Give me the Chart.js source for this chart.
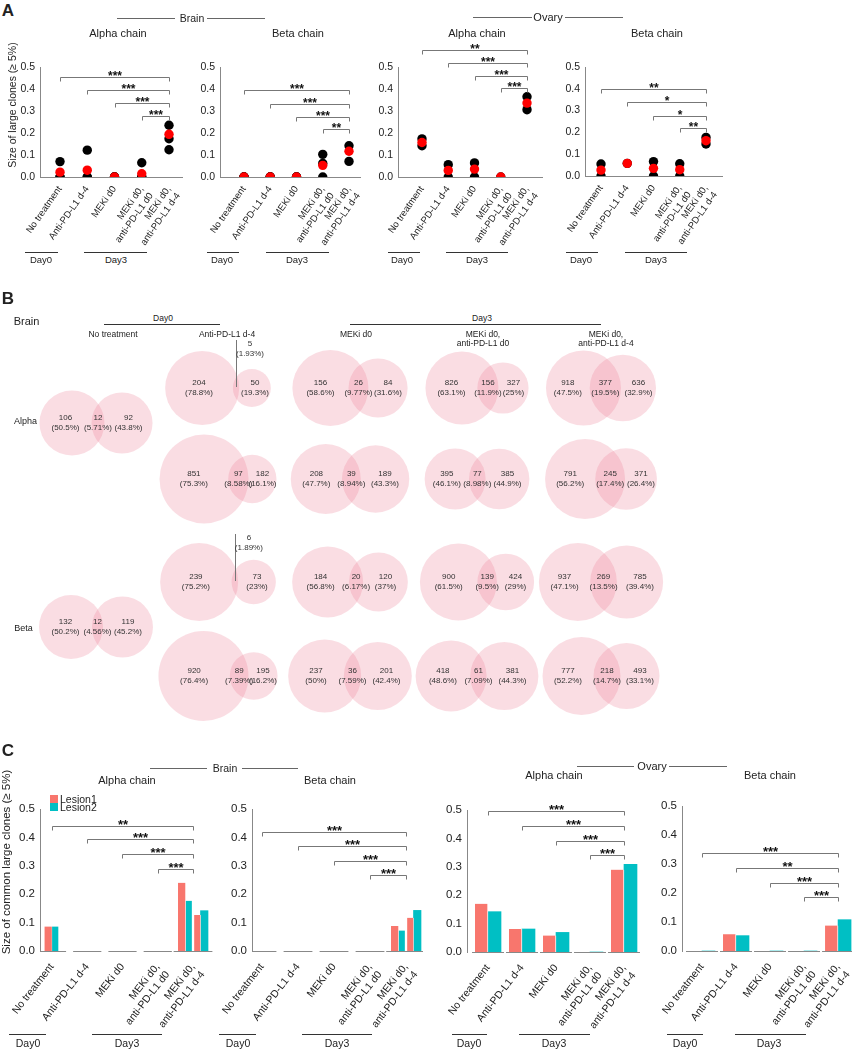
<!DOCTYPE html>
<html>
<head>
<meta charset="utf-8">
<script src="https://cdn.jsdelivr.net/npm/chart.js@4.4.1/dist/chart.umd.min.js"></script>
<style>
  html, body { margin: 0; padding: 0; background: #fff; }
  body { position: relative; width: 859px; height: 1050px; overflow: hidden; font-family: "Liberation Sans", Arial, sans-serif; color: #222; }
  canvas { position: absolute; }
  .t { position: absolute; white-space: nowrap; line-height: 1; text-align: center; transform: translate(-50%, -50%); }
  .l { position: absolute; height: 0; }
  .sq { position: absolute; width: 8px; height: 8px; }
</style>
</head>
<body>
<script>
// ---------- group labels ----------
var groups = ['No treatment', 'Anti-PD-L1 d-4', 'MEKi d0', ['MEKi d0,', 'anti-PD-L1 d0'], ['MEKi d0,', 'anti-PD-L1 d-4']];

// ---------- panel A: size of large clones, black = single lesions, red = mean ----------
var brainAlphaDots = [[0.070, 0, 0], [0.122, 0, 0], [0, 0, 0], [0.065, 0, 0], [0.235, 0.174, 0.124]];
var brainAlphaMean = [0.022, 0.031, 0, 0.015, 0.194];
var brainBetaDots = [[0, 0, 0], [0, 0, 0], [0, 0, 0], [0.103, 0.062, 0], [0.142, 0.071]];
var brainBetaMean = [0, 0, 0, 0.053, 0.117];
var ovaryAlphaDots = [[0.173, 0.142], [0.056, 0], [0.064, 0], [0], [0.365, 0.306]];
var ovaryAlphaMean = [0.157, 0.030, 0.036, 0, 0.336];
var ovaryBetaDots = [[0.055, 0], [0.058], [0.066, 0], [0.056, 0], [0.177, 0.147]];
var ovaryBetaMean = [0.027, 0.058, 0.035, 0.029, 0.162];

// significance brackets: [from group, to group, height, stars]
var brainAlphaSigA = [[0, 4, 0.456, '***'], [1, 4, 0.397, '***'], [2, 4, 0.338, '***'], [3, 4, 0.279, '***']];
var brainBetaSigA = [[0, 4, 0.394, '***'], [1, 4, 0.333, '***'], [2, 4, 0.271, '***'], [3, 4, 0.216, '**']];
var ovaryAlphaSigA = [[0, 4, 0.579, '**'], [1, 4, 0.520, '***'], [2, 4, 0.460, '***'], [3, 4, 0.405, '***']];
var ovaryBetaSigA = [[0, 4, 0.397, '**'], [1, 4, 0.338, '*'], [2, 4, 0.275, '*'], [3, 4, 0.220, '**']];

// ---------- panel B: clone overlaps [lesion1 only, shared, lesion2 only] ----------
var vennColumns = ['No treatment', 'Anti-PD-L1 d-4', 'MEKi d0', 'MEKi d0,<br>anti-PD-L1 d0', 'MEKi d0,<br>anti-PD-L1 d-4'];
var alphaNoTreatment = [106, 12, 92];
var alphaRow1 = [[204, 5, 50], [156, 26, 84], [826, 156, 327], [918, 377, 636]];
var alphaRow2 = [[851, 97, 182], [208, 39, 189], [395, 77, 385], [791, 245, 371]];
var betaNoTreatment = [132, 12, 119];
var betaRow1 = [[239, 6, 73], [184, 20, 120], [900, 139, 424], [937, 269, 785]];
var betaRow2 = [[920, 89, 195], [237, 36, 201], [418, 61, 381], [777, 218, 493]];

// ---------- panel C: size of common large clones per lesion ----------
var brainAlphaL1 = [0.086, 0, 0, 0, 0.240];
var brainAlphaL2 = [0.086, 0, 0, 0, 0.177];
var brainAlphaL1b = [null, null, null, null, 0.127];
var brainAlphaL2b = [null, null, null, null, 0.142];
var brainBetaL1 = [0, 0, 0, 0, 0.088];
var brainBetaL2 = [0, 0, 0, 0, 0.072];
var brainBetaL1b = [null, null, null, null, 0.117];
var brainBetaL2b = [null, null, null, null, 0.143];
var ovaryAlphaL1 = [0.170, 0.081, 0.058, 0, 0.290];
var ovaryAlphaL2 = [0.142, 0.081, 0.069, 0, 0.309];
var ovaryBetaL1 = [0, 0.058, 0, 0, 0.088];
var ovaryBetaL2 = [0, 0.053, 0, 0, 0.108];

var brainAlphaSigC = [[0, 4, 0.441, '**'], [1, 4, 0.393, '***'], [2, 4, 0.340, '***'], [3, 4, 0.289, '***']];
var brainBetaSigC = [[0, 4, 0.420, '***'], [1, 4, 0.370, '***'], [2, 4, 0.318, '***'], [3, 4, 0.268, '***']];
var ovaryAlphaSigC = [[0, 4, 0.497, '***'], [1, 4, 0.444, '***'], [2, 4, 0.391, '***'], [3, 4, 0.342, '***']];
var ovaryBetaSigC = [[0, 4, 0.337, '***'], [1, 4, 0.285, '**'], [2, 4, 0.233, '***'], [3, 4, 0.187, '***']];

var FONT = '"Liberation Sans", Arial, sans-serif';
var L1_COLOR = '#f8766d';
var L2_COLOR = '#00bfc4';
Chart.defaults.font.family = FONT;
Chart.defaults.color = '#222';

// ---------- small html helpers ----------
function put(html, x, y, size, extra) {
    var d = document.createElement('div');
    d.className = 't';
    d.innerHTML = html;
    d.style.left = x + 'px';
    d.style.top = y + 'px';
    d.style.fontSize = size + 'px';
    if (extra) Object.assign(d.style, extra);
    document.body.appendChild(d);
    return d;
}
function rule(x1, x2, y, color, w) {
    var d = document.createElement('div');
    d.className = 'l';
    d.style.left = x1 + 'px';
    d.style.top = y + 'px';
    d.style.width = (x2 - x1) + 'px';
    d.style.borderTop = w + 'px solid ' + color;
    document.body.appendChild(d);
}
function canvasAt(L, T, W, H) {
    var c = document.createElement('canvas');
    c.width = W; c.height = H;
    c.style.left = L + 'px'; c.style.top = T + 'px';
    c.style.width = W + 'px'; c.style.height = H + 'px';
    document.body.appendChild(c);
    return c;
}
function header(x1, x2, x3, x4, y, name, cx, size) {
    rule(x1, x2, y, '#666', 1);
    put(name, cx, y, size);
    rule(x3, x4, y, '#666', 1);
}
function dayMarks(list, y, size) {
    list.forEach(function (d) {
        rule(d[0], d[1], y, '#333', 1.5);
        put(d[3], d[2], y + (size === 9.5 ? 8 : 9), size);
    });
}

// ---------- plugins ----------
var bracketPlugin = {
    id: 'brackets',
    afterDatasetsDraw: function (chart, args, opts) {
        var ctx = chart.ctx, x = chart.scales.x, y = chart.scales.y;
        ctx.save();
        ctx.strokeStyle = '#777';
        ctx.lineWidth = 1;
        ctx.fillStyle = '#111';
        ctx.font = opts.font;
        ctx.textAlign = 'center';
        ctx.textBaseline = 'alphabetic';
        (opts.items || []).forEach(function (b) {
            var x1 = Math.round(x.getPixelForValue(b[0])) + 0.5;
            var x2 = Math.round(x.getPixelForValue(b[1])) + 0.5;
            var py = Math.round(y.getPixelForValue(b[2])) + 0.5;
            ctx.beginPath();
            ctx.moveTo(x1, py + 4);
            ctx.lineTo(x1, py);
            ctx.lineTo(x2, py);
            ctx.lineTo(x2, py + 4);
            ctx.stroke();
            ctx.fillText(b[3], (x1 + x2) / 2, py + opts.lift);
        });
        ctx.restore();
    }
};

var segPlugin = {
    id: 'segs',
    afterDatasetsDraw: function (chart, args, opts) {
        var ctx = chart.ctx, x = chart.scales.x, y = chart.scales.y, area = chart.chartArea;
        var py = Math.round(y.getPixelForValue(0)) + 0.5;
        ctx.save();
        ctx.strokeStyle = '#888';
        ctx.lineWidth = 1;
        opts.spans.forEach(function (h, i) {
            var a = Math.max(area.left, x.getPixelForValue(i - h));
            var b = Math.min(area.right, x.getPixelForValue(i + h));
            ctx.beginPath();
            ctx.moveTo(a, py);
            ctx.lineTo(b, py);
            ctx.stroke();
        });
        ctx.restore();
    }
};

function setTicks(scale) {
    scale.ticks = groups.map(function (_, i) { return {value: i}; });
}

// ---------- panel A charts ----------
function dotChart(cfg) {
    var T = 30, top = 67;
    var L = cfg.axisX - 40;
    var W = cfg.right + 20 - L;
    var H = cfg.bottom + 75 - T;
    var c = canvasAt(L, T, W, H);
    var reps = [];
    cfg.dots.forEach(function (arr, i) { arr.forEach(function (v) { reps.push({x: i, y: v}); }); });
    var mean = cfg.mean.map(function (v, i) { return {x: i, y: v}; });
    var clip = {left: false, top: false, right: false, bottom: 0};
    new Chart(c, {
        type: 'scatter',
        data: {
            datasets: [
                {data: mean, backgroundColor: '#ff0000', borderWidth: 0, pointRadius: 4.7, clip: clip},
                {data: reps, backgroundColor: '#000000', borderWidth: 0, pointRadius: 4.7, clip: clip}
            ]
        },
        options: {
            responsive: false,
            animation: false,
            events: [],
            layout: {autoPadding: false, padding: {top: top - T, right: 20, left: 0, bottom: 0}},
            plugins: {
                legend: {display: false},
                tooltip: {enabled: false},
                brackets: {items: cfg.sig, font: 'bold 12px ' + FONT, lift: 2}
            },
            scales: {
                x: {
                    type: 'linear', bounds: 'data', min: cfg.xMin, max: cfg.xMax,
                    afterBuildTicks: setTicks,
                    afterFit: function (s) { s.height = 75; },
                    grid: {display: false, drawTicks: false},
                    border: {color: '#888'},
                    ticks: {
                        autoSkip: false, minRotation: 55, maxRotation: 55, padding: 7,
                        font: {size: 9.5}, color: '#222',
                        callback: function (v) { return groups[v]; }
                    }
                },
                y: {
                    min: 0, max: 0.5,
                    afterFit: function (s) { s.width = 40; },
                    grid: {display: false, drawTicks: false},
                    border: {color: '#888'},
                    ticks: {stepSize: 0.1, padding: 5, font: {size: 10.5}, color: '#222',
                        callback: function (v) { return v.toFixed(1); }}
                }
            }
        },
        plugins: [bracketPlugin]
    });
}

dotChart({dots: brainAlphaDots, mean: brainAlphaMean, sig: brainAlphaSigA, axisX: 40, right: 182, bottom: 177, xMin: -0.734, xMax: 4.477});
dotChart({dots: brainBetaDots, mean: brainBetaMean, sig: brainBetaSigA, axisX: 220, right: 360, bottom: 177, xMin: -0.914, xMax: 4.419});
dotChart({dots: ovaryAlphaDots, mean: ovaryAlphaMean, sig: ovaryAlphaSigA, axisX: 398, right: 542, bottom: 177, xMin: -0.914, xMax: 4.571});
dotChart({dots: ovaryBetaDots, mean: ovaryBetaMean, sig: ovaryBetaSigA, axisX: 585, right: 722, bottom: 176, xMin: -0.61, xMax: 4.61});

put('A', 8, 10, 17, {fontWeight: 'bold'});
header(117, 175, 207, 265, 18, 'Brain', 192, 10.5);
header(473, 532, 565, 623, 17, 'Ovary', 548, 11);
put('Alpha chain', 118, 33, 11);
put('Beta chain', 298, 33, 11);
put('Alpha chain', 477, 33, 11);
put('Beta chain', 657, 33, 11);
put('Size of large clones (≥ 5%)', 12, 105, 10.5, {transform: 'translate(-50%, -50%) rotate(-90deg)'});
dayMarks([[25, 58, 41, 'Day0'], [84, 147, 116, 'Day3'], [207, 239, 222, 'Day0'], [266, 329, 297, 'Day3'],
          [388, 420, 402, 'Day0'], [446, 508, 477, 'Day3'], [566, 598, 581, 'Day0'], [625, 687, 656, 'Day3']], 252, 9.5);

// ---------- panel B: venn diagrams as bubbles ----------
var B_TOP = 330;
var vennColX = [96, 218, 350, 477, 601];
// radius of the larger circle of each diagram (drawing size only)
var vennRadius = {alphaNT: 32.5, alpha1: [37, 38, 36.5, 37.5], alpha2: [44.5, 35, 30.5, 40],
                  betaNT: 32, beta1: [39, 35.5, 38.5, 39], beta2: [45, 36.5, 35.5, 39]};
var vennList = [{col: 0, y: 423, v: alphaNoTreatment, rb: vennRadius.alphaNT},
                {col: 0, y: 627, v: betaNoTreatment, rb: vennRadius.betaNT}];
alphaRow1.forEach(function (v, i) { vennList.push({col: i + 1, y: 388, v: v, rb: vennRadius.alpha1[i]}); });
alphaRow2.forEach(function (v, i) { vennList.push({col: i + 1, y: 479, v: v, rb: vennRadius.alpha2[i]}); });
betaRow1.forEach(function (v, i) { vennList.push({col: i + 1, y: 582, v: v, rb: vennRadius.beta1[i]}); });
betaRow2.forEach(function (v, i) { vennList.push({col: i + 1, y: 676, v: v, rb: vennRadius.beta2[i]}); });

function lensArea(r1, r2, d) {
    if (d >= r1 + r2) return 0;
    if (d <= Math.abs(r1 - r2)) return Math.PI * Math.pow(Math.min(r1, r2), 2);
    var a = r1 * r1 * Math.acos((d * d + r1 * r1 - r2 * r2) / (2 * d * r1));
    var b = r2 * r2 * Math.acos((d * d + r2 * r2 - r1 * r1) / (2 * d * r2));
    var c = 0.5 * Math.sqrt((-d + r1 + r2) * (d + r1 - r2) * (d - r1 + r2) * (d + r1 + r2));
    return a + b - c;
}
function solveDistance(r1, r2, target) {
    var lo = Math.abs(r1 - r2), hi = r1 + r2;
    for (var k = 0; k < 60; k++) {
        var mid = (lo + hi) / 2;
        if (lensArea(r1, r2, mid) > target) lo = mid; else hi = mid;
    }
    return (lo + hi) / 2;
}
var vennGeo = vennList.map(function (g) {
    var a = g.v[0], s = g.v[1], b = g.v[2];
    var nL = a + s, nR = b + s, big = Math.max(nL, nR);
    var k = Math.PI * g.rb * g.rb / big;
    var rL = Math.sqrt(k * nL / Math.PI), rR = Math.sqrt(k * nR / Math.PI);
    var d = solveDistance(rL, rR, k * s);
    var xL = vennColX[g.col] - (d + rR - rL) / 2;
    return {v: g.v, y: g.y - B_TOP, xL: xL, xR: xL + d, rL: rL, rR: rR};
});

function pct(n, tot) { return parseFloat((n / tot * 100).toPrecision(3)) + '%'; }

var vennTextPlugin = {
    id: 'vennText',
    afterDatasetsDraw: function (chart, args, opts) {
        var ctx = chart.ctx, x = chart.scales.x, y = chart.scales.y;
        ctx.save();
        ctx.font = '8px ' + FONT;
        ctx.fillStyle = '#333';
        ctx.textAlign = 'center';
        ctx.textBaseline = 'middle';
        function two(n, tot, cx, cy) {
            ctx.fillText(String(n), cx, cy - 5);
            ctx.fillText('(' + pct(n, tot) + ')', cx, cy + 5);
        }
        opts.geo.forEach(function (g) {
            var a = g.v[0], s = g.v[1], b = g.v[2], tot = a + s + b;
            var cy = y.getPixelForValue(g.y);
            var xl = x.getPixelForValue(g.xL), xr = x.getPixelForValue(g.xR);
            two(a, tot, ((xl - g.rL) + (xr - g.rR)) / 2, cy);
            two(b, tot, ((xl + g.rL) + (xr + g.rR)) / 2, cy);
            var mid = ((xr - g.rR) + (xl + g.rL)) / 2;
            if (s / tot < 0.03) {
                ctx.strokeStyle = '#777';
                ctx.lineWidth = 1;
                ctx.beginPath();
                ctx.moveTo(Math.round(mid) + 0.5, cy - 1);
                ctx.lineTo(Math.round(mid) + 0.5, cy - 48);
                ctx.stroke();
                two(s, tot, mid + 14, cy - 39);
            } else {
                two(s, tot, mid, cy);
            }
        });
        ctx.restore();
    }
};

var vennCanvas = canvasAt(0, B_TOP, 700, 400);
var bubbles = [];
vennGeo.forEach(function (g) {
    bubbles.push({x: g.xL, y: g.y, r: g.rL});
    bubbles.push({x: g.xR, y: g.y, r: g.rR});
});
new Chart(vennCanvas, {
    type: 'bubble',
    data: {datasets: [{data: bubbles, backgroundColor: 'rgba(236,127,149,0.265)', borderWidth: 0, hoverRadius: 0, clip: false}]},
    options: {
        responsive: false,
        animation: false,
        events: [],
        layout: {autoPadding: false, padding: 0},
        plugins: {legend: {display: false}, tooltip: {enabled: false}, vennText: {geo: vennGeo}},
        scales: {
            x: {type: 'linear', min: 0, max: 700, display: false},
            y: {type: 'linear', min: 0, max: 400, reverse: true, display: false}
        }
    },
    plugins: [vennTextPlugin]
});

put('B', 8, 298, 17, {fontWeight: 'bold'});
put('Brain', 26.5, 321, 11);
rule(104, 220, 324, '#333', 1);
put('Day0', 163, 318, 8.5);
rule(350, 601, 324, '#333', 1);
put('Day3', 482, 318, 8.5);
var vennHeadX = [113, 227, 356, 483, 606];
vennColumns.forEach(function (h, i) {
    put(h, vennHeadX[i], h.indexOf('<br>') > 0 ? 338 : 333.5, 8.5);
});
put('Alpha', 25.5, 421, 9);
put('Beta', 23.5, 628, 9);

// ---------- panel C charts ----------
function barChart(cfg) {
    var T = 785;
    var L = cfg.axisX - 40;
    var W = cfg.right + 20 - L;
    var H = cfg.bottom + 80 - T;
    var c = canvasAt(L, T, W, H);
    new Chart(c, {
        type: 'bar',
        data: {
            datasets: cfg.series.map(function (s) {
                return {
                    data: s[0].map(function (v, i) { return {x: i, y: v}; }),
                    backgroundColor: s[1],
                    borderColor: '#ffffff',
                    borderWidth: s[2],
                    borderSkipped: 'start',
                    barThickness: cfg.bt,
                    skipNull: true
                };
            })
        },
        options: {
            responsive: false,
            animation: false,
            events: [],
            layout: {autoPadding: false, padding: {top: cfg.top - T, right: 20, left: 0, bottom: 0}},
            plugins: {
                legend: {display: false},
                tooltip: {enabled: false},
                brackets: {items: cfg.sig, font: 'bold 13px ' + FONT, lift: 2},
                segs: {spans: cfg.spans}
            },
            scales: {
                x: {
                    type: 'linear', bounds: 'data', min: cfg.xMin, max: cfg.xMax, offset: false,
                    afterBuildTicks: setTicks,
                    afterFit: function (s) { s.height = 80; },
                    grid: {display: false, drawTicks: false},
                    border: {display: false},
                    ticks: {
                        autoSkip: false, minRotation: 52, maxRotation: 52, padding: 10,
                        font: {size: 10.5}, color: '#222',
                        callback: function (v) { return groups[v]; }
                    }
                },
                y: {
                    min: 0, max: 0.5,
                    afterFit: function (s) { s.width = 40; },
                    grid: {display: false, drawTicks: false},
                    border: {color: '#888'},
                    ticks: {stepSize: 0.1, padding: 5, font: {size: 11.5}, color: '#222',
                        callback: function (v) { return v.toFixed(1); }}
                }
            }
        },
        plugins: [segPlugin, bracketPlugin]
    });
}

var brainSpans = [0.4, 0.4, 0.4, 0.4, 0.55];
var ovarySpans = [0.47, 0.47, 0.47, 0.47, 0.47];
barChart({
    series: [[brainAlphaL1, L1_COLOR, {right: 0.5}], [brainAlphaL2, L2_COLOR, {right: 1.5}],
             [brainAlphaL1b, L1_COLOR, {left: 1.5, right: 0.5}], [brainAlphaL2b, L2_COLOR, 0]],
    sig: brainAlphaSigC, axisX: 40, right: 213, top: 809, bottom: 951, xMin: -0.34, xMax: 4.567, bt: 7.5, spans: brainSpans
});
barChart({
    series: [[brainBetaL1, L1_COLOR, {right: 0.5}], [brainBetaL2, L2_COLOR, {right: 1.5}],
             [brainBetaL1b, L1_COLOR, {left: 1.5, right: 0.5}], [brainBetaL2b, L2_COLOR, 0]],
    sig: brainBetaSigC, axisX: 252, right: 423, top: 809, bottom: 951, xMin: -0.278, xMax: 4.472, bt: 7.5, spans: brainSpans
});
barChart({
    series: [[ovaryAlphaL1, L1_COLOR, {right: 1}], [ovaryAlphaL2, L2_COLOR, 0]],
    sig: ovaryAlphaSigC, axisX: 467, right: 643, top: 810, bottom: 952, xMin: -0.618, xMax: 4.559, bt: 13, spans: ovarySpans
});
barChart({
    series: [[ovaryBetaL1, L1_COLOR, {right: 1}], [ovaryBetaL2, L2_COLOR, 0]],
    sig: ovaryBetaSigC, axisX: 682, right: 852, top: 806, bottom: 951, xMin: -0.588, xMax: 4.41, bt: 13, spans: ovarySpans
});

put('C', 8, 750, 17, {fontWeight: 'bold'});
header(150, 207, 242, 298, 768, 'Brain', 225, 10.5);
header(577, 634, 669, 727, 766, 'Ovary', 652, 11);
put('Alpha chain', 127, 780, 11);
put('Beta chain', 330, 780, 11);
put('Alpha chain', 554, 775, 11);
put('Beta chain', 770, 775, 11);
put('Size of common large clones (≥ 5%)', 7, 862, 11.5, {transform: 'translate(-50%, -50%) rotate(-90deg)'});
[[L1_COLOR, 795, 'Lesion1'], [L2_COLOR, 803, 'Lesion2']].forEach(function (e) {
    var sq = document.createElement('div');
    sq.className = 'sq';
    sq.style.left = '50px';
    sq.style.top = e[1] + 'px';
    sq.style.background = e[0];
    document.body.appendChild(sq);
    put(e[2], 60, e[1] + 3.5, 10.5, {transform: 'translate(0, -50%)'});
});
dayMarks([[9, 46, 28, 'Day0'], [92, 162, 127, 'Day3'], [219, 256, 238, 'Day0'], [302, 372, 337, 'Day3'],
          [452, 487, 469, 'Day0'], [519, 590, 554, 'Day3'], [667, 703, 685, 'Day0'], [735, 806, 769, 'Day3']], 1034, 10.5);
</script>
</body>
</html>
